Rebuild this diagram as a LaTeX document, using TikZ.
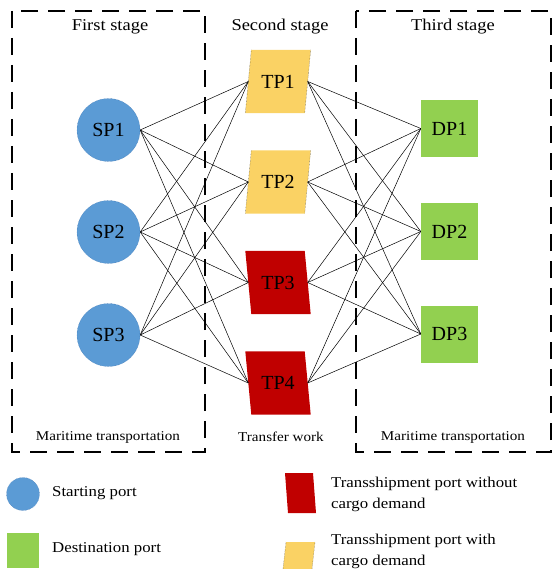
\documentclass[tikz,border=0pt]{standalone}
\usepackage{fontspec}
\setmainfont{Liberation Serif}
\newfontfamily\widef{Liberation Serif}[FakeStretch=1.12]
\usetikzlibrary{calc,backgrounds}
\definecolor{spblue}{RGB}{91,155,213}
\definecolor{spedge}{RGB}{60,110,170}
\definecolor{tpyellow}{RGB}{250,210,100}
\definecolor{tpred}{RGB}{192,0,0}
\definecolor{dpgreen}{RGB}{146,208,80}
\tikzset{
  stagebox/.style={line width=2.2pt, dash pattern=on 17pt off 10pt},
  spnode/.style={circle, fill=spblue, draw=spedge, densely dotted, line width=0.4pt,
    minimum size=63pt, inner sep=0pt, font=\fontsize{20}{22}\selectfont},
  tpnode/.style={rectangle, minimum width=59pt, minimum height=63pt, inner sep=0pt,
    font=\fontsize{20}{22}\selectfont},
  dpnode/.style={rectangle, fill=dpgreen, minimum size=57pt, inner sep=0pt,
    font=\fontsize{20}{22}\selectfont},
  link/.style={line width=0.5pt, black},
  stagetitle/.style={font=\widef\fontsize{16.5}{18}\selectfont, inner sep=0pt},
  worklabel/.style={font=\widef\fontsize{13.5}{15}\selectfont, inner sep=0pt},
  legendtext/.style={font=\widef\fontsize{15}{21}\selectfont, inner sep=0pt, anchor=west, align=left},
}
\begin{document}
\begin{tikzpicture}[x=1pt,y=-1pt]
\useasboundingbox (0,0) rectangle (556,569);

% stage boxes
\draw[stagebox] (12,11) rectangle (205,452);
\draw[stagebox] (356,11) rectangle (551,452);

% titles
\node[stagetitle] (t1) at (110,27) {First stage};
\node[stagetitle] (t2) at (280,27) {Second stage};
\node[stagetitle] (t3) at (453,27) {Third stage};
\node[worklabel] (b1) at (108,437) {Maritime transportation};
\node[worklabel] (b2) at (281,437) {Transfer work};
\node[worklabel] (b3) at (453,437) {Maritime transportation};

% starting ports
\node[spnode] (sp1) at (108.5,130) {SP1};
\node[spnode] (sp2) at (108.5,232) {SP2};
\node[spnode] (sp3) at (108.5,335) {SP3};

% transshipment ports
\node[tpnode] (tp1) at (278,81.5) {TP1};
\node[tpnode] (tp2) at (278,182) {TP2};
\node[tpnode] (tp3) at (278,282.5) {TP3};
\node[tpnode] (tp4) at (278,383) {TP4};

% destination ports
\node[dpnode] (dp1) at (449.5,128.5) {DP1};
\node[dpnode] (dp2) at (449.5,231.5) {DP2};
\node[dpnode] (dp3) at (449.5,334) {DP3};

\begin{pgfonlayer}{background}
  \foreach \n in {tp1,tp2}{
    \fill[tpyellow] ($(\n.north west)+(3,0)$) -- ($(\n.north east)+(3,0)$)
      -- ($(\n.south east)+(-3,0)$) -- ($(\n.south west)+(-3,0)$) -- cycle;
    \draw[black!70, densely dotted, line width=0.4pt] ($(\n.north west)+(3,0)$) -- ($(\n.south west)+(-3,0)$);
    \draw[black!70, densely dotted, line width=0.4pt] ($(\n.north east)+(3,0)$) -- ($(\n.south east)+(-3,0)$);
  }
  \foreach \n in {tp3,tp4}{
    \fill[tpred] ($(\n.north west)+(-3,0)$) -- ($(\n.north east)+(-3,0)$)
      -- ($(\n.south east)+(3,0)$) -- ($(\n.south west)+(3,0)$) -- cycle;
  }
  \foreach \s in {sp1,sp2,sp3}{
    \foreach \t in {tp1,tp2,tp3,tp4}{
      \draw[link] (\s.east) -- (\t.west);
    }
  }
  \foreach \t in {tp1,tp2,tp3,tp4}{
    \foreach \d in {dp1,dp2,dp3}{
      \draw[link] (\t.east) -- (\d.west);
    }
  }
\end{pgfonlayer}

% legend
\node[circle, fill=spblue, draw=spedge, densely dotted, line width=0.4pt, minimum size=33pt, inner sep=0pt] (lg1) at (23,494) {};
\node[legendtext] (lt1) at (52,493) {Starting port};
\node[rectangle, fill=dpgreen, minimum width=32pt, minimum height=35pt, inner sep=0pt] (lg2) at (23,550.5) {};
\node[legendtext] (lt2) at (52,549) {Destination port};
\coordinate (lg3) at (300.5,493);
\fill[tpred] (285,473) -- (313,473) -- (316,513) -- (288,513) -- cycle;
\node[legendtext] (lt3) at (331,494) {Transshipment port without\\cargo demand};
\coordinate (lg4) at (299,555);
\fill[tpyellow] (286,542) -- (315,542) -- (312,569) -- (283,569) -- cycle;
\draw[black!70, densely dotted, line width=0.4pt] (286,542) -- (283,569);
\draw[black!70, densely dotted, line width=0.4pt] (315,542) -- (312,569);
\node[legendtext] (lt4) at (331,551) {Transshipment port with\\cargo demand};
\end{tikzpicture}
\end{document}
